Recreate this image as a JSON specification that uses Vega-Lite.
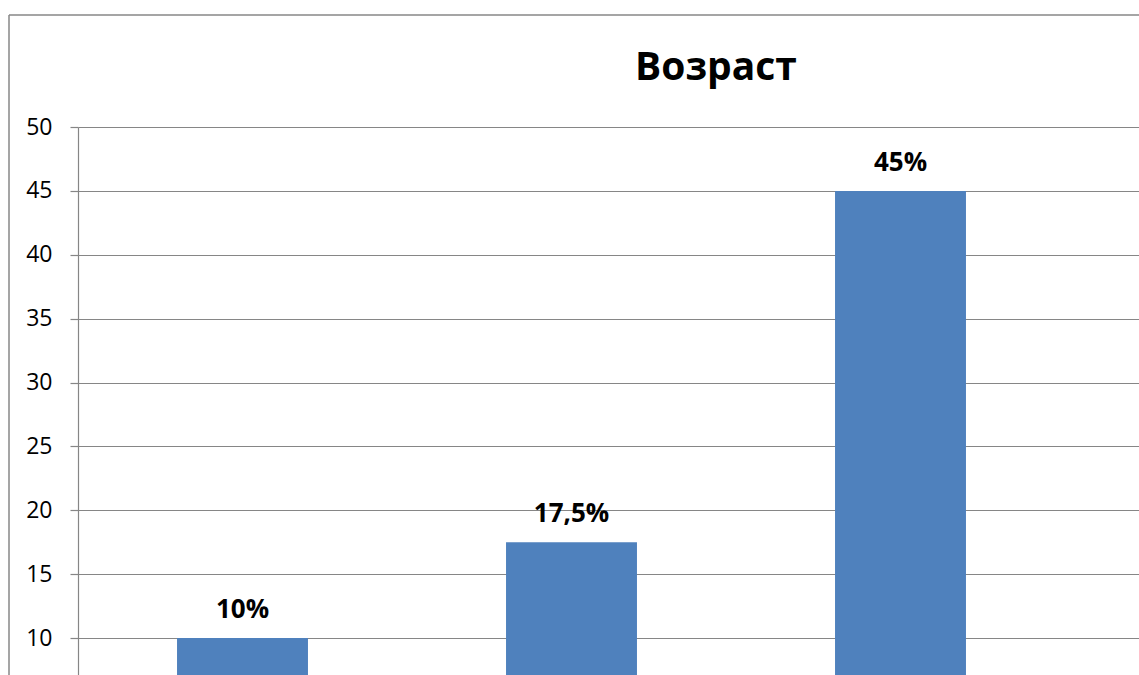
{
  "$schema": "https://vega.github.io/schema/vega-lite/v6.json",
  "width": 1130,
  "height": 660,
  "autosize": "none",
  "padding": {"left": 9, "top": 15, "right": 0, "bottom": 0},
  "background": "white",
  "title": {
    "text": "Возраст",
    "font": "Open Sans",
    "fontSize": 39,
    "fontWeight": "bold",
    "color": "black",
    "anchor": "middle",
    "frame": "group",
    "dx": 142,
    "offset": -73
  },
  "config": {
    "view": {"stroke": "#888888", "strokeWidth": 1.5, "strokeDash": [1130, 1790, 660, 0]}
  },
  "data": {
    "values": [
      {"group": "1", "value": 10, "label": "10%"},
      {"group": "2", "value": 17.5, "label": "17,5%"},
      {"group": "3", "value": 45, "label": "45%"}
    ]
  },
  "encoding": {
    "x": {
      "field": "group",
      "type": "nominal",
      "scale": {"domain": ["1", "2", "3", "4"], "range": [69, 1385], "paddingInner": 0.602, "paddingOuter": 0.301},
      "axis": null
    },
    "y": {
      "field": "value",
      "type": "quantitative",
      "scale": {"domain": [0, 50], "range": [750.75, 112], "nice": false},
      "axis": {
        "values": [10, 15, 20, 25, 30, 35, 40, 45, 50],
        "offset": -69,
        "title": null,
        "grid": true,
        "gridColor": "#868686",
        "gridWidth": 1.2,
        "domainColor": "#868686",
        "domainWidth": 1.2,
        "tickColor": "#868686",
        "tickWidth": 1.2,
        "tickSize": 8,
        "labelPadding": 18,
        "labelFont": "Open Sans",
        "labelFontSize": 23,
        "labelColor": "black"
      }
    }
  },
  "layer": [
    {"mark": {"type": "bar", "color": "#4F81BD", "clip": true}},
    {
      "mark": {"type": "text", "font": "Open Sans", "fontSize": 26, "fontWeight": "bold", "color": "black", "baseline": "alphabetic", "dy": -20},
      "encoding": {"text": {"field": "label", "type": "nominal"}}
    }
  ]
}
